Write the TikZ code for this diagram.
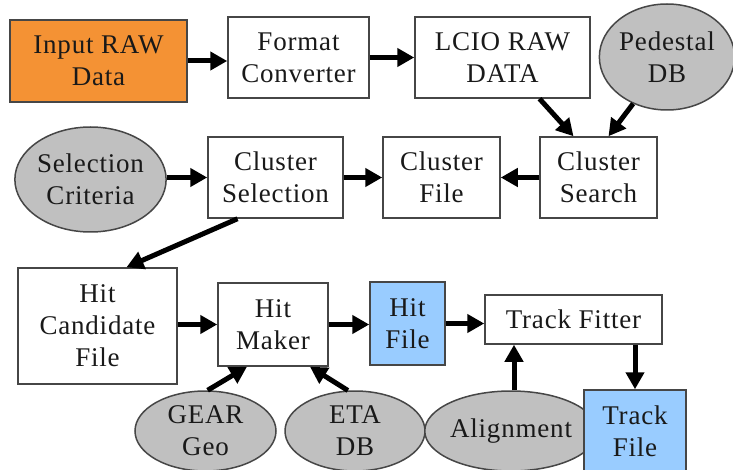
\documentclass[tikz,border=0pt]{standalone}
\usepackage{fontspec}
\setmainfont{Liberation Serif}
\newfontfamily\diagfont{Liberation Serif}[LetterSpace=3]
\usetikzlibrary{shapes.geometric,arrows.meta}
\definecolor{rawfill}{RGB}{244,146,52}
\definecolor{filefill}{RGB}{153,204,255}
\definecolor{dbfill}{RGB}{192,192,192}
\definecolor{edgegray}{RGB}{70,70,70}
\tikzset{
  base/.style={draw=edgegray, line width=1.5pt, inner sep=0pt, align=center,
    font=\diagfont\fontsize{27}{32}\selectfont, text=black!90},
  proc/.style={base, rectangle, fill=white},
  rawbox/.style={base, rectangle, fill=rawfill},
  filebox/.style={base, rectangle, fill=filefill},
  dbnode/.style={base, ellipse, fill=dbfill},
  flow/.style={line width=5pt, black, -{Triangle[length=17pt,width=18pt]}}
}
\begin{document}
\begin{tikzpicture}[x=1pt,y=-1pt]
\useasboundingbox (0,0) rectangle (733,470);

% first row: raw input, conversion, pedestal database
\node[rawbox, minimum width=177pt, minimum height=82pt] (in) at (98.5,61) {Input RAW\\Data};
\node[proc, minimum width=141pt, minimum height=81pt] (fc) at (298.5,57.5) {Format\\Converter};
\node[proc, minimum width=175pt, minimum height=81pt] (lcio) at (502.5,57.5) {LCIO RAW\\DATA};
\node[dbnode, minimum width=130pt, minimum height=106pt] (ped) at (667,57) {Pedestal\\DB};

% second row: clustering
\node[dbnode, minimum width=143pt, minimum height=105pt] (selc) at (90.5,179.5) {Selection\\Criteria};
\node[proc, minimum width=135pt, minimum height=81pt] (csel) at (275.5,177.5) {Cluster\\Selection};
\node[proc, minimum width=117pt, minimum height=81pt] (cf) at (441.5,177.5) {Cluster\\File};
\node[proc, minimum width=117pt, minimum height=81pt] (cs) at (598.5,177.5) {Cluster\\Search};

% third row: hits and tracks
\node[proc, minimum width=159pt, minimum height=116pt] (hc) at (97.5,326) {Hit\\Candidate\\File};
\node[proc, minimum width=110pt, minimum height=83pt] (hm) at (273,324.5) {Hit\\Maker};
\node[filebox, minimum width=75pt, minimum height=83pt] (hf) at (407.5,323.5) {Hit\\File};
\node[proc, minimum width=177pt, minimum height=49pt] (tf) at (573.5,319.5) {Track Fitter};

% bottom row: databases and output
\node[dbnode, minimum width=141pt, minimum height=80pt] (gear) at (205.5,431) {GEAR\\Geo};
\node[dbnode, minimum width=140pt, minimum height=80pt] (eta) at (355,431) {ETA\\DB};
\node[dbnode, minimum width=142pt, minimum height=80pt] (align) at (511,431) {Alignment};
\node[filebox, minimum width=102pt, minimum height=82pt] (tfile) at (635,431) {Track\\File};

% connectors
\draw[flow] (in.east) -- (in.east -| fc.west);
\draw[flow] (fc.east) -- (fc.east -| lcio.west);
\draw[flow] ([xshift=37pt]lcio.south) -- ([xshift=-25pt]cs.north);
\draw[flow] (ped.-126) -- ([xshift=10pt]cs.north);
\draw[flow] (cs.west) -- (cs.west -| cf.east);
\draw[flow] (csel.east) -- (csel.east -| cf.west);
\draw[flow] (selc.east |- csel.west) -- (csel.west);
\draw[flow] ([xshift=-38pt]csel.south) -- ([xshift=29pt]hc.north);
\draw[flow] (hc.east |- hm.west) -- (hm.west);
\draw[flow] (gear.87) -- ([xshift=-26pt]hm.south);
\draw[flow] (eta.100) -- ([xshift=37pt]hm.south);
\draw[flow] (hm.east) -- (hm.east -| hf.west);
\draw[flow] (hf.east) -- (hf.east -| tf.west);
\draw[flow] ([xshift=3pt]align.north) -- ([xshift=3pt]align.north |- tf.south);
\draw[flow] (tfile.north |- tf.south) -- (tfile.north);
\end{tikzpicture}
\end{document}
